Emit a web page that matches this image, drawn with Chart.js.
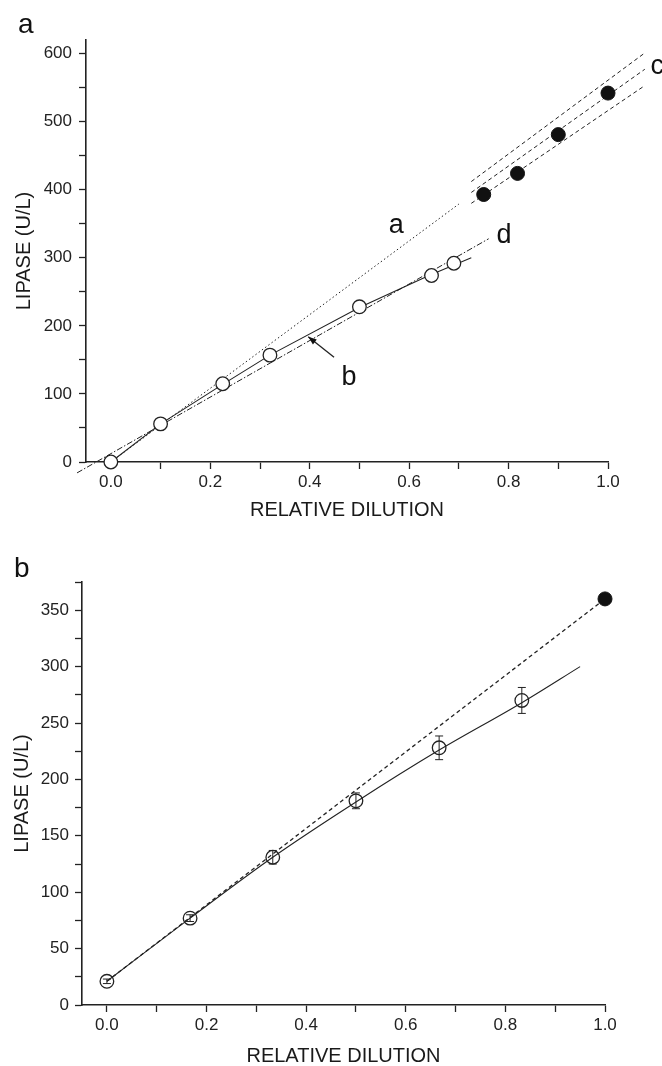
<!DOCTYPE html>
<html>
<head>
<meta charset="utf-8">
<script src="https://cdn.jsdelivr.net/npm/chart.js@4/dist/chart.umd.min.js"></script>
<style>
  body { margin: 0; background: #fff; }
  #wrap { position: relative; width: 662px; height: 1066px; overflow: hidden; }
  canvas { position: absolute; left: 0; }
  .panel { position: absolute; font: 28px "Liberation Sans", Arial, sans-serif; color: #111; line-height: 1; }
</style>
</head>
<body>
<div id="wrap">
  <canvas id="chartA" width="662" height="530" style="top:0"></canvas>
  <canvas id="chartB" width="662" height="536" style="top:530px"></canvas>
  <div class="panel" style="left:18px;top:10px">a</div>
  <div class="panel" style="left:14px;top:554px">b</div>
</div>
<script>
// ---- panel a data ----
var aOpenX = [0, 0.1, 0.225, 0.32, 0.5, 0.645, 0.69];
var aOpenY = [0, 56, 115, 157, 228, 274, 292];
var aFilledX = [0.75, 0.818, 0.9, 1.0];
var aFilledY = [393, 424, 481, 542];
// fitted curve b (solid)
var aLineBX = [0, 0.1, 0.225, 0.32, 0.5, 0.64, 0.725];
var aLineBY = [0, 56, 114, 157, 227, 274, 300];
// line a (dotted)
var aLineAX = [0, 0.70];
var aLineAY = [0, 379];
// line d (dash dot)
var aLineDX = [-0.068, 0.76];
var aLineDY = [-16, 328];
// lines c (dashed, three)
var aLineCX = [0.725, 1.074];
var aLineCTop = [412, 601];
var aLineCMid = [396, 577];
var aLineCLow = [380, 553];
var aXTicks = [0, 0.1, 0.2, 0.3, 0.4, 0.5, 0.6, 0.7, 0.8, 0.9, 1.0];
var aXLabels = [0, 0.2, 0.4, 0.6, 0.8, 1.0];
var aYTicks = [0, 50, 100, 150, 200, 250, 300, 350, 400, 450, 500, 550, 600];
var aYLabels = [0, 100, 200, 300, 400, 500, 600];
var aNoteText = ['a', 'b', 'c', 'd'];
var aNoteX = [0.574, 0.479, 1.099, 0.791];
var aNoteY = [336, 113, 570, 322];
var aArrowX = [0.449, 0.397];
var aArrowY = [154, 184];

// ---- panel b data ----
var bOpenX = [0, 0.167, 0.333, 0.5, 0.667, 0.833];
var bOpenY = [21, 77, 131, 181, 228, 270];
var bErr = [2, 3, 6, 7, 10.5, 11.5];
var bFilledX = [1.0];
var bFilledY = [360];
var bFitX = [0, 0.167, 0.333, 0.5, 0.667, 0.833, 0.95];
var bFitY = [21, 77, 131, 180, 226, 268, 300];
var bDashX = [0, 1.0];
var bDashY = [21, 360];
var bXTicks = [0, 0.1, 0.2, 0.3, 0.4, 0.5, 0.6, 0.7, 0.8, 0.9, 1.0];
var bXLabels = [0, 0.2, 0.4, 0.6, 0.8, 1.0];
var bYTicks = [0, 25, 50, 75, 100, 125, 150, 175, 200, 225, 250, 275, 300, 325, 350, 375];
var bYLabels = [0, 50, 100, 150, 200, 250, 300, 350];

var FONT = '"Liberation Sans", Arial, sans-serif';
var INK = '#222';

function pts(xs, ys) {
    return xs.map(function (v, i) { return { x: v, y: ys[i] }; });
}

// labels, arrow, error bars drawn at data positions
var notesPlugin = {
    id: 'notes',
    afterDatasetsDraw: function (chart, args, o) {
        var ctx = chart.ctx, sx = chart.scales.x, sy = chart.scales.y;
        ctx.save();
        ctx.strokeStyle = INK;
        ctx.fillStyle = '#111';
        ctx.lineWidth = 1;
        if (o.errX) {
            for (var i = 0; i < o.errX.length; i++) {
                var px = sx.getPixelForValue(o.errX[i]);
                var p1 = sy.getPixelForValue(o.errY[i] + o.err[i]);
                var p2 = sy.getPixelForValue(o.errY[i] - o.err[i]);
                ctx.beginPath();
                ctx.moveTo(px, p1); ctx.lineTo(px, p2);
                ctx.moveTo(px - 4, p1); ctx.lineTo(px + 4, p1);
                ctx.moveTo(px - 4, p2); ctx.lineTo(px + 4, p2);
                ctx.stroke();
            }
        }
        if (o.text) {
            ctx.font = '27px ' + FONT;
            ctx.textAlign = 'center';
            ctx.textBaseline = 'alphabetic';
            for (var j = 0; j < o.text.length; j++) {
                ctx.fillText(o.text[j], sx.getPixelForValue(o.textX[j]), sy.getPixelForValue(o.textY[j]));
            }
        }
        if (o.arrowX) {
            var x0 = sx.getPixelForValue(o.arrowX[0]), y0 = sy.getPixelForValue(o.arrowY[0]);
            var x1 = sx.getPixelForValue(o.arrowX[1]), y1 = sy.getPixelForValue(o.arrowY[1]);
            var ang = Math.atan2(y1 - y0, x1 - x0);
            ctx.lineWidth = 1.3;
            ctx.beginPath();
            ctx.moveTo(x0, y0); ctx.lineTo(x1, y1);
            ctx.stroke();
            ctx.beginPath();
            ctx.moveTo(x1, y1);
            ctx.lineTo(x1 - 9 * Math.cos(ang - 0.35), y1 - 9 * Math.sin(ang - 0.35));
            ctx.lineTo(x1 - 9 * Math.cos(ang + 0.35), y1 - 9 * Math.sin(ang + 0.35));
            ctx.closePath();
            ctx.fill();
        }
        ctx.restore();
    }
};

function lineSet(data, dash, width) {
    return {
        data: data, showLine: true, borderColor: INK, borderWidth: width || 1,
        borderDash: dash, pointRadius: 0, fill: false, clip: false
    };
}

function axes(cfg) {
    return {
        x: {
            type: 'linear', min: -0.05, max: 1.0,
            afterBuildTicks: function (s) { s.ticks = cfg.xTicks.map(function (v) { return { value: v }; }); },
            afterFit: function (s) { s.height = cfg.xH; },
            grid: { drawOnChartArea: false, tickLength: 7, tickColor: INK, tickWidth: 1.3 },
            border: { color: INK, width: 1.6 },
            ticks: {
                autoSkip: false, maxRotation: 0, color: '#222', padding: 3,
                font: { family: FONT, size: 17 },
                callback: function (v) { return cfg.xLabels.indexOf(v) >= 0 ? v.toFixed(1) : ''; }
            },
            title: {
                display: true, text: 'RELATIVE DILUTION', color: '#1a1a1a',
                font: { family: FONT, size: 20, lineHeight: 1 },
                padding: { top: 0, bottom: cfg.xTitlePad }
            }
        },
        y: {
            type: 'linear', min: 0, max: cfg.yMax,
            afterBuildTicks: function (s) { s.ticks = cfg.yTicks.map(function (v) { return { value: v }; }); },
            afterFit: function (s) { s.width = cfg.yW; },
            grid: { drawOnChartArea: false, tickLength: 7, tickColor: INK, tickWidth: 1.3 },
            border: { color: INK, width: 1.6 },
            ticks: {
                autoSkip: false, color: '#222', padding: cfg.yPad,
                font: { family: FONT, size: 17 },
                callback: function (v) { return cfg.yLabels.indexOf(v) >= 0 ? String(v) : ''; }
            },
            title: {
                display: true, text: 'LIPASE (U/L)', color: '#1a1a1a',
                font: { family: FONT, size: 20, lineHeight: 1 },
                padding: { top: cfg.yTitlePad, bottom: 0 }
            }
        }
    };
}

var openStyle = { pointStyle: 'circle', pointRadius: 6.8, pointBorderWidth: 1.3, borderColor: INK, showLine: false, clip: false };

new Chart(document.getElementById('chartA'), {
    type: 'scatter',
    data: {
        datasets: [
            Object.assign({ data: pts(aOpenX, aOpenY), backgroundColor: '#fff' }, openStyle),
            { data: pts(aFilledX, aFilledY), pointRadius: 7, backgroundColor: '#111', borderColor: '#111', showLine: false, clip: false },
            lineSet(pts(aLineBX, aLineBY), [], 1.1),
            lineSet(pts(aLineAX, aLineAY), [1.5, 2.5], 1),
            lineSet(pts(aLineDX, aLineDY), [6, 2, 1.5, 2], 1),
            lineSet(pts(aLineCX, aLineCTop), [4, 3], 1),
            lineSet(pts(aLineCX, aLineCMid), [4, 3], 1),
            lineSet(pts(aLineCX, aLineCLow), [4, 3], 1)
        ]
    },
    options: {
        responsive: false, animation: false, devicePixelRatio: 1,
        layout: { padding: { top: 40, right: 54, left: 0, bottom: 0 } },
        plugins: {
            legend: { display: false }, tooltip: { enabled: false },
            notes: { text: aNoteText, textX: aNoteX, textY: aNoteY, arrowX: aArrowX, arrowY: aArrowY }
        },
        scales: axes({ xTicks: aXTicks, xLabels: aXLabels, yTicks: aYTicks, yLabels: aYLabels, yMax: 620,
                       xH: 68, yW: 86, yPad: 7, xTitlePad: 10, yTitlePad: 14 })
    },
    plugins: [notesPlugin]
});

new Chart(document.getElementById('chartB'), {
    type: 'scatter',
    data: {
        datasets: [
            Object.assign({ data: pts(bOpenX, bOpenY), backgroundColor: 'rgba(0,0,0,0)' }, openStyle),
            { data: pts(bFilledX, bFilledY), pointRadius: 7, backgroundColor: '#111', borderColor: '#111', showLine: false, clip: false },
            Object.assign(lineSet(pts(bFitX, bFitY), [], 1.1), { cubicInterpolationMode: 'monotone' }),
            lineSet(pts(bDashX, bDashY), [4, 3], 1.3)
        ]
    },
    options: {
        responsive: false, animation: false, devicePixelRatio: 1,
        layout: { padding: { top: 52, right: 57, left: 0, bottom: 0 } },
        plugins: {
            legend: { display: false }, tooltip: { enabled: false },
            notes: { errX: bOpenX, errY: bOpenY, err: bErr }
        },
        scales: axes({ xTicks: bXTicks, xLabels: bXLabels, yTicks: bYTicks, yLabels: bYLabels, yMax: 375,
                       xH: 61, yW: 82, yPad: 6, xTitlePad: 0, yTitlePad: 12 })
    },
    plugins: [notesPlugin]
});
</script>
</body>
</html>
